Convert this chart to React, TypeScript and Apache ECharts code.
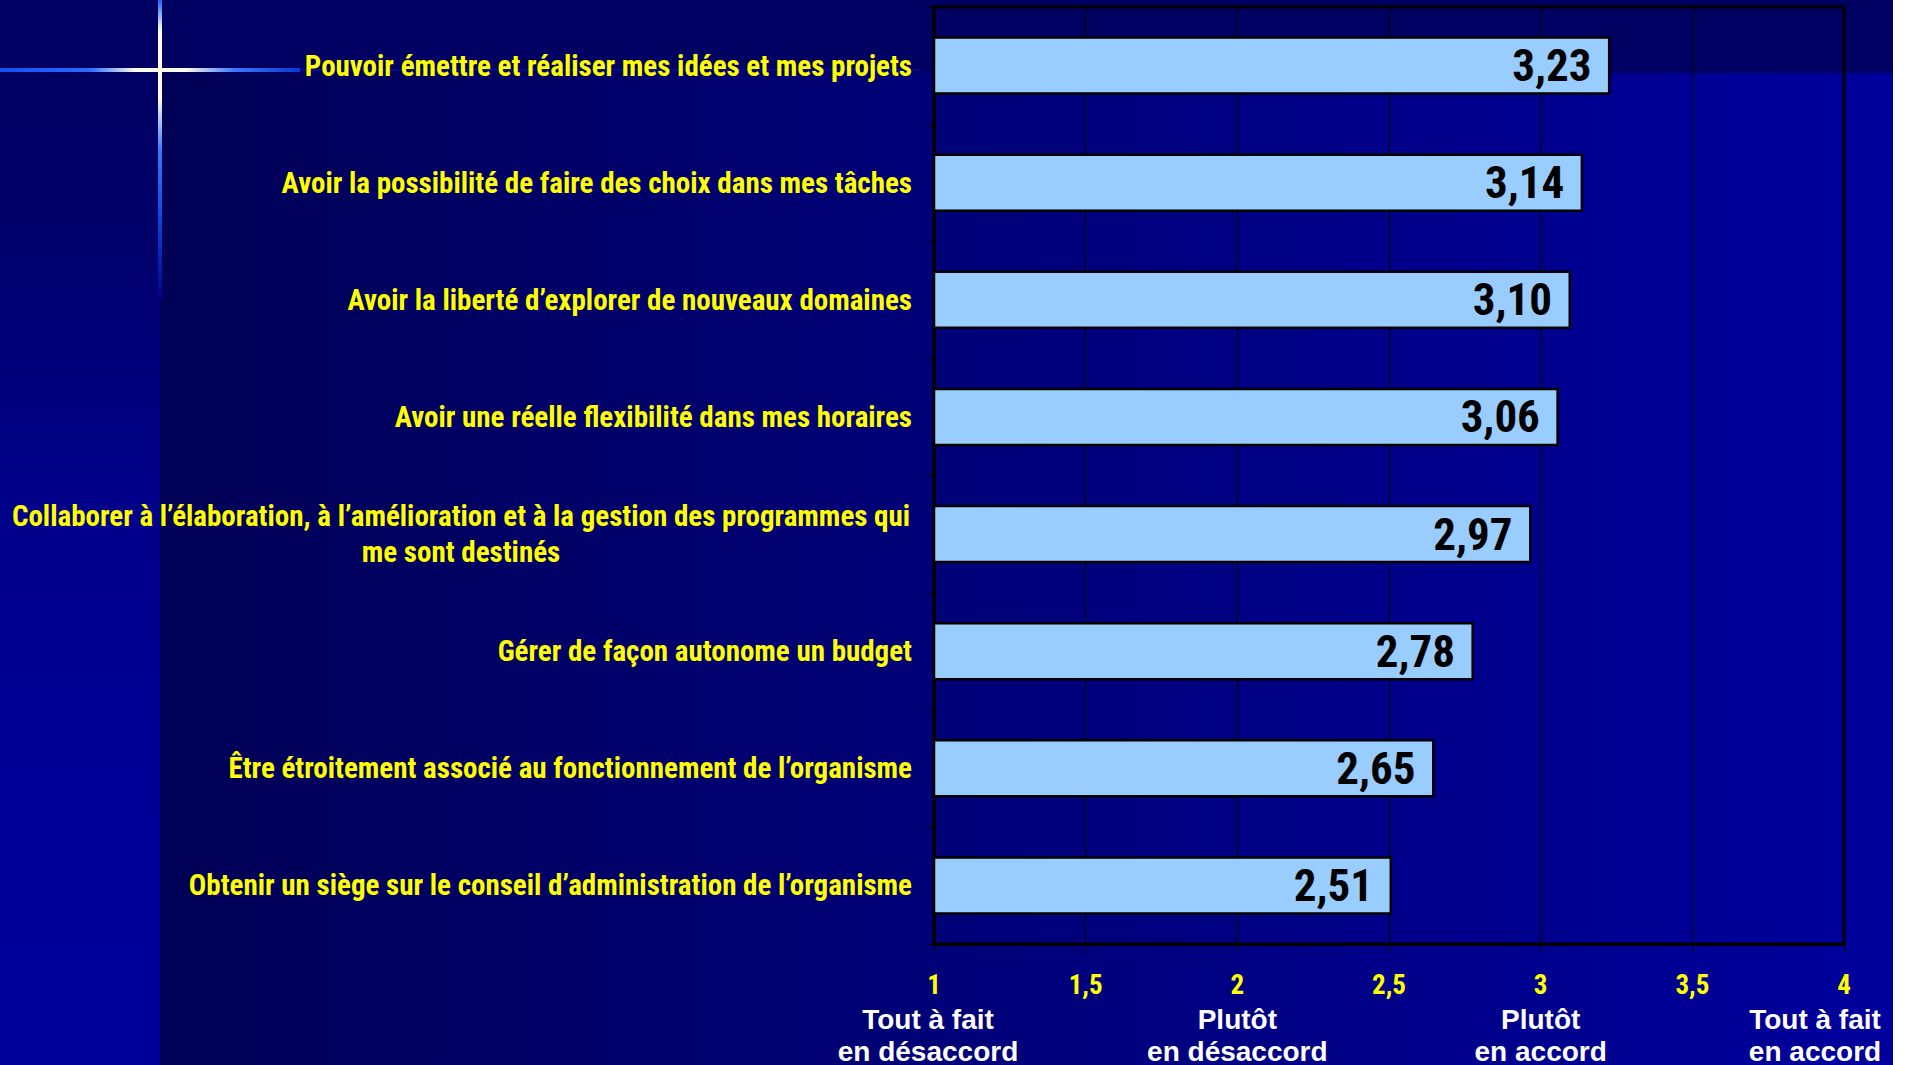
import React, { useEffect, useRef } from 'react';
import * as echarts from 'echarts';

const categories = [
  'Pouvoir émettre et réaliser mes idées et mes projets',
  'Avoir la possibilité de faire des choix dans mes tâches',
  'Avoir la liberté d’explorer de nouveaux domaines',
  'Avoir une réelle flexibilité dans mes horaires',
  'Collaborer à l’élaboration, à l’amélioration et à la gestion des programmes qui\nme sont destinés',
  'Gérer de façon autonome un budget',
  'Être étroitement associé au fonctionnement de l’organisme',
  'Obtenir un siège sur le conseil d’administration de l’organisme',
];
const values = [3.23, 3.14, 3.1, 3.06, 2.97, 2.78, 2.65, 2.51];
const axisMin = 1;
const axisMax = 4;
const axisStep = 0.5;
const scaleNames: Record<string, string[]> = {
  '1': ['Tout à fait', 'en désaccord'],
  '2': ['Plutôt', 'en désaccord'],
  '3': ['Plutôt', 'en accord'],
  '4': ['Tout à fait', 'en accord'],
};

const NARROW = '"Roboto Condensed", "Open Sans Condensed", sans-serif';
const WIDE = '"Liberation Sans", Arial, sans-serif';
const fmt = (v: number) => String(v).replace('.', ',');

export default function App() {
  const ref = useRef<HTMLDivElement>(null);
  useEffect(() => {
    if (!ref.current) return;
    const chart = echarts.init(ref.current, undefined, { renderer: 'svg' });
    const W = 1893;
    const H = 1065;
    chart.setOption({
      animation: false,
      backgroundColor: '#ffffff',
      graphic: [
        {
          type: 'rect', z: -100, silent: true,
          shape: { x: 160, y: 0, width: W - 160, height: H },
          style: { fill: new echarts.graphic.LinearGradient(0, 0, 1, 0, [
            { offset: 0, color: '#000055' },
            { offset: 0.45, color: '#000078' },
            { offset: 1, color: '#00009c' },
          ]) },
        },
        {
          type: 'rect', z: -99, silent: true,
          shape: { x: 160, y: 0, width: W - 160, height: 73 },
          style: { fill: '#000063' },
        },
        {
          type: 'rect', z: -99, silent: true,
          shape: { x: 0, y: 0, width: 160, height: H },
          style: { fill: new echarts.graphic.LinearGradient(0, 0, 0, 1, [
            { offset: 0, color: '#000062' },
            { offset: 0.2, color: '#000068' },
            { offset: 0.45, color: '#000088' },
            { offset: 0.8, color: '#000099' },
            { offset: 1, color: '#00009a' },
          ]) },
        },
        {
          type: 'rect', z: -98, silent: true,
          shape: { x: 300, y: 69, width: 620, height: 2 },
          style: { fill: '#000c8c' },
        },
        {
          type: 'rect', z: -97, silent: true,
          shape: { x: 0, y: 68, width: 300, height: 4 },
          style: {
            fill: new echarts.graphic.LinearGradient(0, 0, 1, 0, [
              { offset: 0, color: '#1050f0' },
              { offset: 0.3, color: '#2a6cff' },
              { offset: 0.45, color: '#fffbe6' },
              { offset: 0.62, color: '#fffbe6' },
              { offset: 0.78, color: '#3a78ff' },
              { offset: 1, color: '#0838d0' },
            ]),
          },
        },
        {
          type: 'rect', z: -97, silent: true,
          shape: { x: 158, y: 0, width: 4, height: 300 },
          style: {
            fill: new echarts.graphic.LinearGradient(0, 0, 0, 1, [
              { offset: 0, color: '#1a66ff' },
              { offset: 0.1, color: '#fffbe6' },
              { offset: 0.33, color: '#fffbe6' },
              { offset: 0.5, color: '#3a78ff' },
              { offset: 0.75, color: '#0a40d8' },
              { offset: 1, color: '#000080' },
            ]),
          },
        },
      ],
      grid: {
        left: 934, right: 1907 - 1844, top: 7, bottom: 1065 - 944,
        show: true, borderColor: '#000', borderWidth: 3, backgroundColor: 'transparent',
        containLabel: false, outerBoundsMode: 'none',
      },
      xAxis: {
        type: 'value', min: axisMin, max: axisMax, interval: axisStep,
        axisLine: { show: true, lineStyle: { color: '#000', width: 3 } },
        axisTick: { show: true, length: 8, lineStyle: { color: '#000', width: 1 } },
        splitLine: { show: true, lineStyle: { color: '#000', width: 1 } },
        axisLabel: {
          showMinLabel: true, showMaxLabel: true, margin: 23,
          formatter: (v: number) => {
            const key = String(v);
            const n = `{n|${fmt(v)}}`;
            const names = scaleNames[key];
            if (!names) return n;
            const st = key === '4' ? 'd4' : key === '1' ? 'd1' : 'd';
            return [n, ...names.map((s) => `{${st}|${s}}`)].join('\n');
          },
          rich: {
            n: { fontSize: 27, lineHeight: 36, color: '#ffff00', fontWeight: 'bold', fontFamily: NARROW },
            d: { fontSize: 28, lineHeight: 32, color: '#ffffff', fontWeight: 'bold', fontFamily: WIDE },
            d1: { fontSize: 28, lineHeight: 32, color: '#ffffff', fontWeight: 'bold', fontFamily: WIDE, padding: [0, 12, 0, 0] },
            d4: { fontSize: 28, lineHeight: 32, color: '#ffffff', fontWeight: 'bold', fontFamily: WIDE, padding: [0, 58, 0, 0] },
          },
        },
      },
      yAxis: {
        type: 'category', inverse: true, data: categories,
        axisLine: { show: true, lineStyle: { color: '#000', width: 3 } },
        axisTick: { show: true, length: 7, lineStyle: { color: '#000', width: 1 } },
        axisLabel: {
          margin: 22, color: '#ffff00', fontSize: 29, fontWeight: 'bold', fontFamily: NARROW,
          formatter: (v: string) =>
            v.includes('\n') ? v.split('\n').map((l) => `{c|${l}}`).join('\n') : v,
          rich: {
            c: { width: 902, align: 'center', fontSize: 29, lineHeight: 36, color: '#ffff00', fontWeight: 'bold', fontFamily: NARROW },
          },
        },
      },
      series: [
        {
          type: 'bar', data: values, barCategoryGap: '50%',
          itemStyle: { color: '#99ccff', borderColor: '#000', borderWidth: 2.5 },
          label: {
            show: true, position: 'insideRight', distance: 19,
            formatter: (p: any) => p.value.toFixed(2).replace('.', ','),
            fontSize: 45, fontWeight: 'bold', color: '#000', fontFamily: NARROW,
          },
        },
      ],
    });
    return () => chart.dispose();
  }, []);
  return (
    <div
      ref={ref}
      style={{ position: 'fixed', left: 0, top: 0, width: 1907, height: 1065 }}
    />
  );
}
